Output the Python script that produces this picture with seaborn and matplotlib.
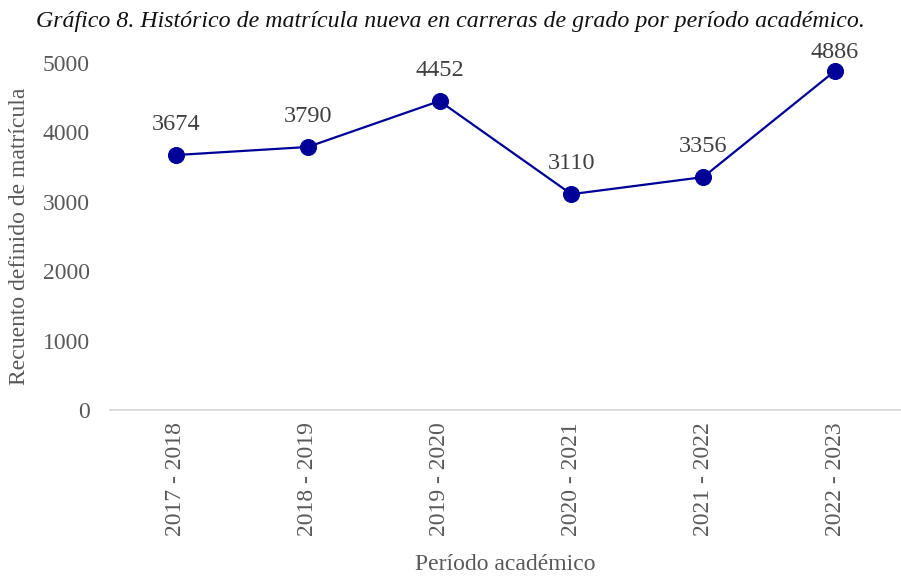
import numpy as np
import pandas as pd
import seaborn as sns
import matplotlib.pyplot as plt

periodos = ["2017 - 2018", "2018 - 2019", "2019 - 2020", "2020 - 2021", "2021 - 2022", "2022 - 2023"]
matricula = [3674, 3790, 4452, 3110, 3356, 4886]

df = pd.DataFrame({"periodo": periodos, "matricula": matricula})

sns.set_style("white")
plt.rcParams['font.family'] = ['Liberation Serif', 'DejaVu Serif']

fig = plt.figure(figsize=(9.01, 5.77), dpi=100)
ax = fig.add_axes([0.122, 0.2894, 0.878, 0.6014])

azul = "#000099"
gris = "#595959"
sns.lineplot(data=df, x="periodo", y="matricula", ax=ax, color=azul, linewidth=1.6,
             marker="o", markersize=11.5, markeredgecolor=azul, sort=False, clip_on=False)

# etiquetas sobre los puntos (la ultima queda mas cerca por el borde superior)
for i, v in enumerate(matricula):
    off = 13 if v > 4800 else 22
    ax.annotate(str(v), (i, v), xytext=(0, off), textcoords="offset points",
                ha="center", va="center", fontsize=17.5, color="#404040")

ax.set_xlim(-0.5, 5.5)
ax.set_ylim(0, 5000)
ax.set_yticks([0, 1000, 2000, 3000, 4000, 5000])
ax.tick_params(axis="x", rotation=90, labelsize=17, colors=gris, length=0, pad=9)
ax.tick_params(axis="y", labelsize=17, colors=gris, length=0, pad=14.5)
for s in ["top", "right", "left"]:
    ax.spines[s].set_visible(False)
ax.spines["bottom"].set_color("#d9d9d9")
ax.spines["bottom"].set_linewidth(1.3)

ax.set_xlabel("Período académico", fontsize=17, color=gris, va="center")
ax.set_ylabel("Recuento definido de matrícula", fontsize=17, color=gris, va="center")
ax.xaxis.set_label_coords(0.5, -0.444)
ax.yaxis.set_label_coords(-0.1138, 0.5)
fig.text(0.5, 0.962, "Gráfico 8. Histórico de matrícula nueva en carreras de grado por período académico.",
         ha="center", va="center", fontsize=17.2, style="italic", color="#111111")

plt.savefig("out.png", dpi=100)
